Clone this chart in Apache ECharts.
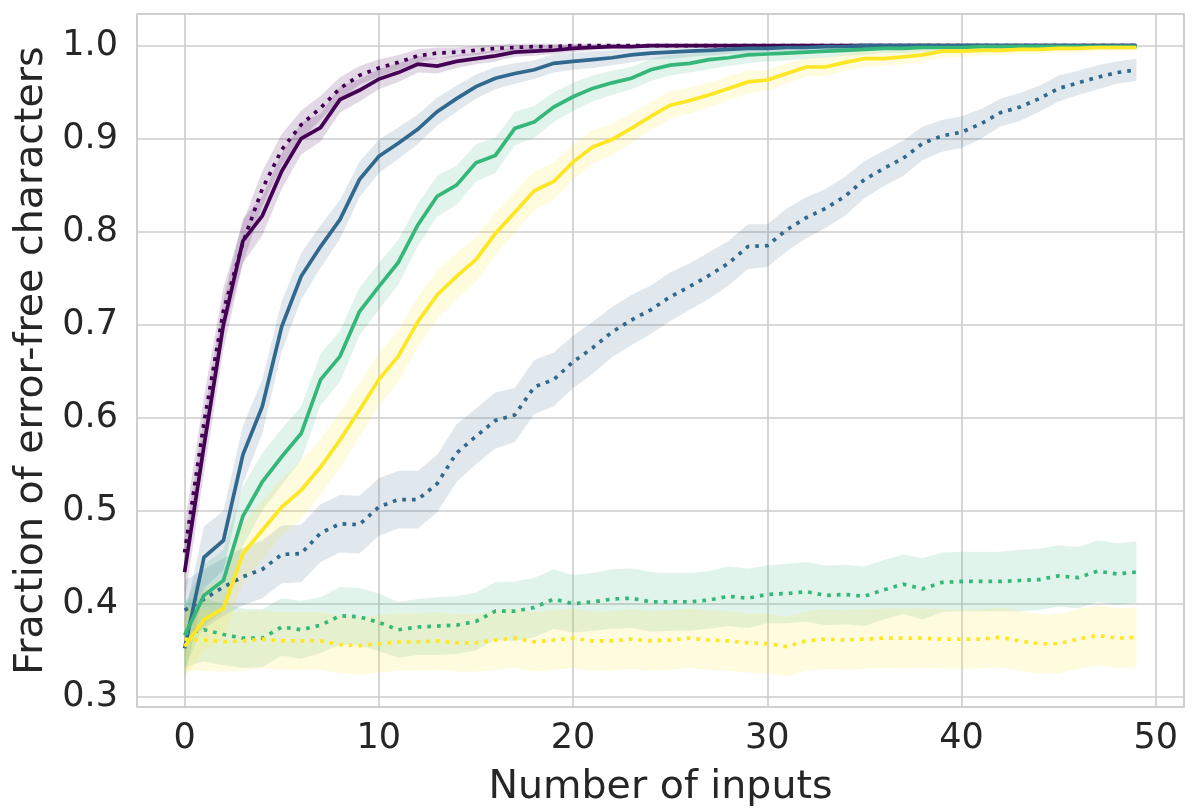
<!DOCTYPE html>
<html>
<head>
<meta charset="utf-8">
<script src="https://cdn.jsdelivr.net/npm/echarts@6/dist/echarts.min.js"></script>
<style>
html,body{margin:0;padding:0;background:#fff;}
#chart{width:1199px;height:808px;}
</style>
</head>
<body>
<div id="chart"></div>
<script>
// x positions (number of inputs)
const inputs = [0,1,2,3,4,5,6,7,8,9,10,11,12,13,14,15,16,17,18,19,20,21,22,23,24,25,26,27,28,29,30,31,32,33,34,35,36,37,38,39,40,41,42,43,44,45,46,47,48,49];

// Solid lines (means)
const solidPurple = [0.434,0.570,0.700,0.790,0.817,0.865,0.900,0.912,0.942,0.952,0.964,0.971,0.980,0.978,0.983,0.986,0.989,0.993,0.994,0.995,0.997,0.998,0.999,0.999,1.000,1.000,1.000,1.000,1.000,1.000,1.000,1.000,1.000,1.000,1.000,1.000,1.000,1.000,1.000,1.000,1.000,1.000,1.000,1.000,1.000,1.000,1.000,1.000,1.000,1.000];
const solidBlue = [0.352,0.450,0.468,0.560,0.612,0.698,0.752,0.784,0.813,0.856,0.881,0.895,0.910,0.929,0.943,0.956,0.965,0.970,0.974,0.981,0.983,0.985,0.987,0.990,0.992,0.993,0.994,0.995,0.996,0.997,0.997,0.998,0.998,0.999,0.999,1.000,1.000,1.000,1.000,1.000,1.000,1.000,1.000,1.000,1.000,1.000,1.000,1.000,1.000,1.000];
const solidGreen = [0.366,0.409,0.425,0.494,0.531,0.558,0.583,0.641,0.666,0.714,0.741,0.767,0.807,0.838,0.850,0.874,0.882,0.911,0.918,0.934,0.945,0.954,0.960,0.965,0.974,0.979,0.981,0.985,0.987,0.990,0.991,0.992,0.993,0.994,0.995,0.996,0.997,0.997,0.998,0.998,0.998,0.999,0.999,0.999,0.999,0.999,0.999,0.999,0.999,0.999];
const solidYellow = [0.354,0.383,0.395,0.454,0.479,0.504,0.522,0.547,0.576,0.608,0.641,0.666,0.703,0.732,0.752,0.770,0.798,0.821,0.844,0.854,0.875,0.891,0.899,0.911,0.924,0.936,0.941,0.947,0.954,0.961,0.963,0.970,0.977,0.977,0.982,0.986,0.986,0.988,0.990,0.994,0.994,0.995,0.995,0.996,0.996,0.997,0.997,0.998,0.998,0.998];

// Dotted lines (means)
const dottedPurple = [0.455,0.595,0.715,0.788,0.846,0.888,0.915,0.933,0.954,0.968,0.976,0.982,0.989,0.992,0.993,0.995,0.997,0.998,0.999,0.999,1.000,1.000,1.000,1.000,1.000,1.000,1.000,1.000,1.000,1.000,1.000,1.000,1.000,1.000,1.000,1.000,1.000,1.000,1.000,1.000,1.000,1.000,1.000,1.000,1.000,1.000,1.000,1.000,1.000,1.000];
const dottedBlue = [0.393,0.405,0.418,0.429,0.437,0.453,0.454,0.476,0.486,0.485,0.504,0.512,0.512,0.529,0.562,0.580,0.597,0.603,0.633,0.641,0.660,0.675,0.692,0.705,0.716,0.730,0.741,0.753,0.766,0.784,0.785,0.802,0.815,0.825,0.838,0.856,0.868,0.879,0.895,0.903,0.907,0.916,0.928,0.934,0.943,0.954,0.960,0.966,0.971,0.974];
const dottedGreen = [0.368,0.372,0.367,0.363,0.363,0.375,0.372,0.377,0.387,0.386,0.380,0.372,0.375,0.376,0.377,0.381,0.392,0.392,0.396,0.405,0.400,0.402,0.405,0.406,0.402,0.402,0.402,0.404,0.408,0.406,0.410,0.411,0.413,0.409,0.410,0.408,0.415,0.421,0.416,0.423,0.424,0.424,0.424,0.425,0.426,0.430,0.428,0.435,0.432,0.434];
const dottedYellow = [0.362,0.361,0.359,0.360,0.362,0.360,0.360,0.360,0.356,0.355,0.357,0.359,0.359,0.360,0.358,0.358,0.361,0.363,0.359,0.361,0.363,0.360,0.360,0.362,0.360,0.361,0.363,0.361,0.360,0.358,0.357,0.354,0.360,0.362,0.361,0.362,0.363,0.363,0.363,0.362,0.362,0.362,0.364,0.360,0.357,0.357,0.362,0.366,0.363,0.364];

// Confidence band half-widths
const bandSolidPurple = [0.032,0.030,0.027,0.024,0.021,0.019,0.017,0.015,0.014,0.012,0.011,0.010,0.009,0.008,0.007,0.006,0.006,0.005,0.005,0.004,0.004,0.003,0.003,0.002,0.002,0.002,0.001,0.001,0.001,0.001,0.001,0.001,0.001,0.001,0.001,0.001,0.001,0.001,0.001,0.001,0.001,0.001,0.001,0.001,0.001,0.001,0.001,0.001,0.001,0.001];
const bandSolidBlue = [0.034,0.033,0.032,0.031,0.029,0.027,0.025,0.023,0.021,0.019,0.018,0.017,0.016,0.015,0.014,0.013,0.012,0.011,0.010,0.010,0.009,0.009,0.008,0.008,0.007,0.007,0.006,0.006,0.005,0.005,0.004,0.004,0.004,0.003,0.003,0.003,0.002,0.002,0.002,0.002,0.001,0.001,0.001,0.001,0.001,0.001,0.001,0.001,0.001,0.001];
const bandSolidGreen = [0.034,0.033,0.033,0.032,0.031,0.030,0.029,0.028,0.027,0.026,0.025,0.024,0.023,0.022,0.021,0.020,0.019,0.018,0.017,0.016,0.015,0.014,0.013,0.012,0.012,0.011,0.010,0.010,0.009,0.009,0.008,0.008,0.007,0.007,0.006,0.006,0.005,0.005,0.005,0.004,0.004,0.004,0.003,0.003,0.003,0.003,0.002,0.002,0.002,0.002];
const bandSolidYellow = [0.034,0.033,0.033,0.032,0.032,0.031,0.031,0.030,0.030,0.029,0.028,0.028,0.027,0.026,0.025,0.024,0.023,0.022,0.021,0.020,0.019,0.018,0.017,0.016,0.015,0.015,0.014,0.013,0.013,0.012,0.011,0.011,0.010,0.010,0.009,0.009,0.008,0.008,0.007,0.007,0.006,0.006,0.005,0.005,0.005,0.004,0.004,0.004,0.004,0.004];
const bandDottedPurple = [0.030,0.028,0.025,0.022,0.019,0.017,0.015,0.013,0.012,0.010,0.009,0.008,0.007,0.006,0.005,0.005,0.004,0.004,0.003,0.003,0.002,0.002,0.002,0.001,0.001,0.001,0.001,0.001,0.001,0.001,0.001,0.001,0.001,0.001,0.001,0.001,0.001,0.001,0.001,0.001,0.001,0.001,0.001,0.001,0.001,0.001,0.001,0.001,0.001,0.001];
const bandDottedBlue = [0.032,0.032,0.031,0.031,0.031,0.031,0.031,0.031,0.031,0.031,0.031,0.031,0.031,0.031,0.031,0.030,0.030,0.029,0.029,0.029,0.028,0.028,0.027,0.027,0.026,0.026,0.025,0.025,0.024,0.024,0.023,0.023,0.022,0.021,0.021,0.020,0.019,0.019,0.018,0.017,0.017,0.016,0.015,0.015,0.014,0.014,0.013,0.013,0.012,0.012];
const bandDottedGreen = [0.036,0.034,0.033,0.032,0.031,0.031,0.031,0.030,0.031,0.031,0.031,0.030,0.030,0.031,0.031,0.031,0.031,0.032,0.032,0.032,0.031,0.031,0.032,0.032,0.032,0.031,0.031,0.031,0.032,0.032,0.031,0.032,0.032,0.032,0.032,0.032,0.032,0.032,0.033,0.032,0.032,0.032,0.032,0.033,0.033,0.033,0.033,0.033,0.033,0.033];
const bandDottedYellow = [0.034,0.033,0.032,0.032,0.031,0.031,0.031,0.031,0.031,0.031,0.031,0.031,0.031,0.031,0.031,0.031,0.032,0.032,0.032,0.032,0.032,0.032,0.032,0.032,0.032,0.032,0.032,0.032,0.032,0.032,0.032,0.032,0.032,0.032,0.032,0.032,0.032,0.032,0.032,0.032,0.032,0.032,0.032,0.032,0.032,0.032,0.032,0.032,0.032,0.032];

const xTicks = [0,10,20,30,40,50];
const yTicks = [0.3,0.4,0.5,0.6,0.7,0.8,0.9,1.0];

const colors = {purple:'#440154', blue:'#31688e', green:'#35b779', yellow:'#fde725'};

const lines = [
  {name:'solid purple', mean:solidPurple, band:bandSolidPurple, color:colors.purple, dotted:false},
  {name:'dotted purple', mean:dottedPurple, band:bandDottedPurple, color:colors.purple, dotted:true},
  {name:'solid blue', mean:solidBlue, band:bandSolidBlue, color:colors.blue, dotted:false},
  {name:'dotted blue', mean:dottedBlue, band:bandDottedBlue, color:colors.blue, dotted:true},
  {name:'solid green', mean:solidGreen, band:bandSolidGreen, color:colors.green, dotted:false},
  {name:'dotted green', mean:dottedGreen, band:bandDottedGreen, color:colors.green, dotted:true},
  {name:'solid yellow', mean:solidYellow, band:bandSolidYellow, color:colors.yellow, dotted:false},
  {name:'dotted yellow', mean:dottedYellow, band:bandDottedYellow, color:colors.yellow, dotted:true}
];

const series = [];
lines.forEach((l, k) => {
  series.push({
    type:'custom',
    name: l.name + ' band',
    silent:true,
    z: 1 + k,
    data: inputs.map((x,i)=>[x, l.mean[i]]),
    encode:{x:0, y:1},
    renderItem: function(params, api){
      if (params.dataIndex !== 0) return null;
      const pts = [];
      for (let i=0;i<inputs.length;i++) pts.push(api.coord([inputs[i], l.mean[i] + l.band[i]]));
      for (let i=inputs.length-1;i>=0;i--) pts.push(api.coord([inputs[i], l.mean[i] - l.band[i]]));
      return {type:'polygon', shape:{points:pts}, style:{fill:l.color, opacity:0.15}};
    }
  });
});
lines.forEach((l, k) => {
  series.push({
    type:'line',
    name:l.name,
    z: 20 + k,
    showSymbol:false,
    symbol:'none',
    data: inputs.map((x,i)=>[x, l.mean[i]]),
    lineStyle:{color:l.color, width:3.7, type: l.dotted ? [3.7,6.0] : 'solid', cap:'butt', join:'miter'}
  });
});

const font = 'DejaVu Sans';
const chart = echarts.init(document.getElementById('chart'), null, {renderer:'canvas'});
chart.setOption({
  animation:false,
  backgroundColor:'#ffffff',
  grid:{left:137, top:14, right:15, bottom:101, show:true, borderColor:'#cccccc', borderWidth:1.6, backgroundColor:'transparent', containLabel:false, outerBoundsMode:'none'},
  xAxis:{
    type:'value', min:-2.45, max:51.45, splitNumber:5,
    name:'Number of inputs', nameLocation:'middle', nameGap:61,
    nameTextStyle:{fontFamily:font, fontSize:39.5, color:'#262626'},
    axisLine:{show:false}, axisTick:{show:false},
    axisLabel:{fontFamily:font, fontSize:35, color:'#262626', margin:14,
      formatter: v => xTicks.some(t => Math.abs(t - v) < 1e-6) ? String(Math.round(v)) : ''},
    splitLine:{show:true, lineStyle:{color:'#cccccc', width:1.6}}
  },
  yAxis:{
    type:'value', min:0.289, max:1.034, splitNumber:7,
    name:'Fraction of error-free characters', nameLocation:'middle', nameGap:76,
    nameTextStyle:{fontFamily:font, fontSize:39.5, color:'#262626'},
    axisLine:{show:false}, axisTick:{show:false},
    axisLabel:{fontFamily:font, fontSize:35, color:'#262626', margin:19,
      formatter: v => yTicks.some(t => Math.abs(t - v) < 1e-6) ? v.toFixed(1) : ''},
    splitLine:{show:true, lineStyle:{color:'#cccccc', width:1.6}}
  },
  series: series
});
</script>
</body>
</html>
